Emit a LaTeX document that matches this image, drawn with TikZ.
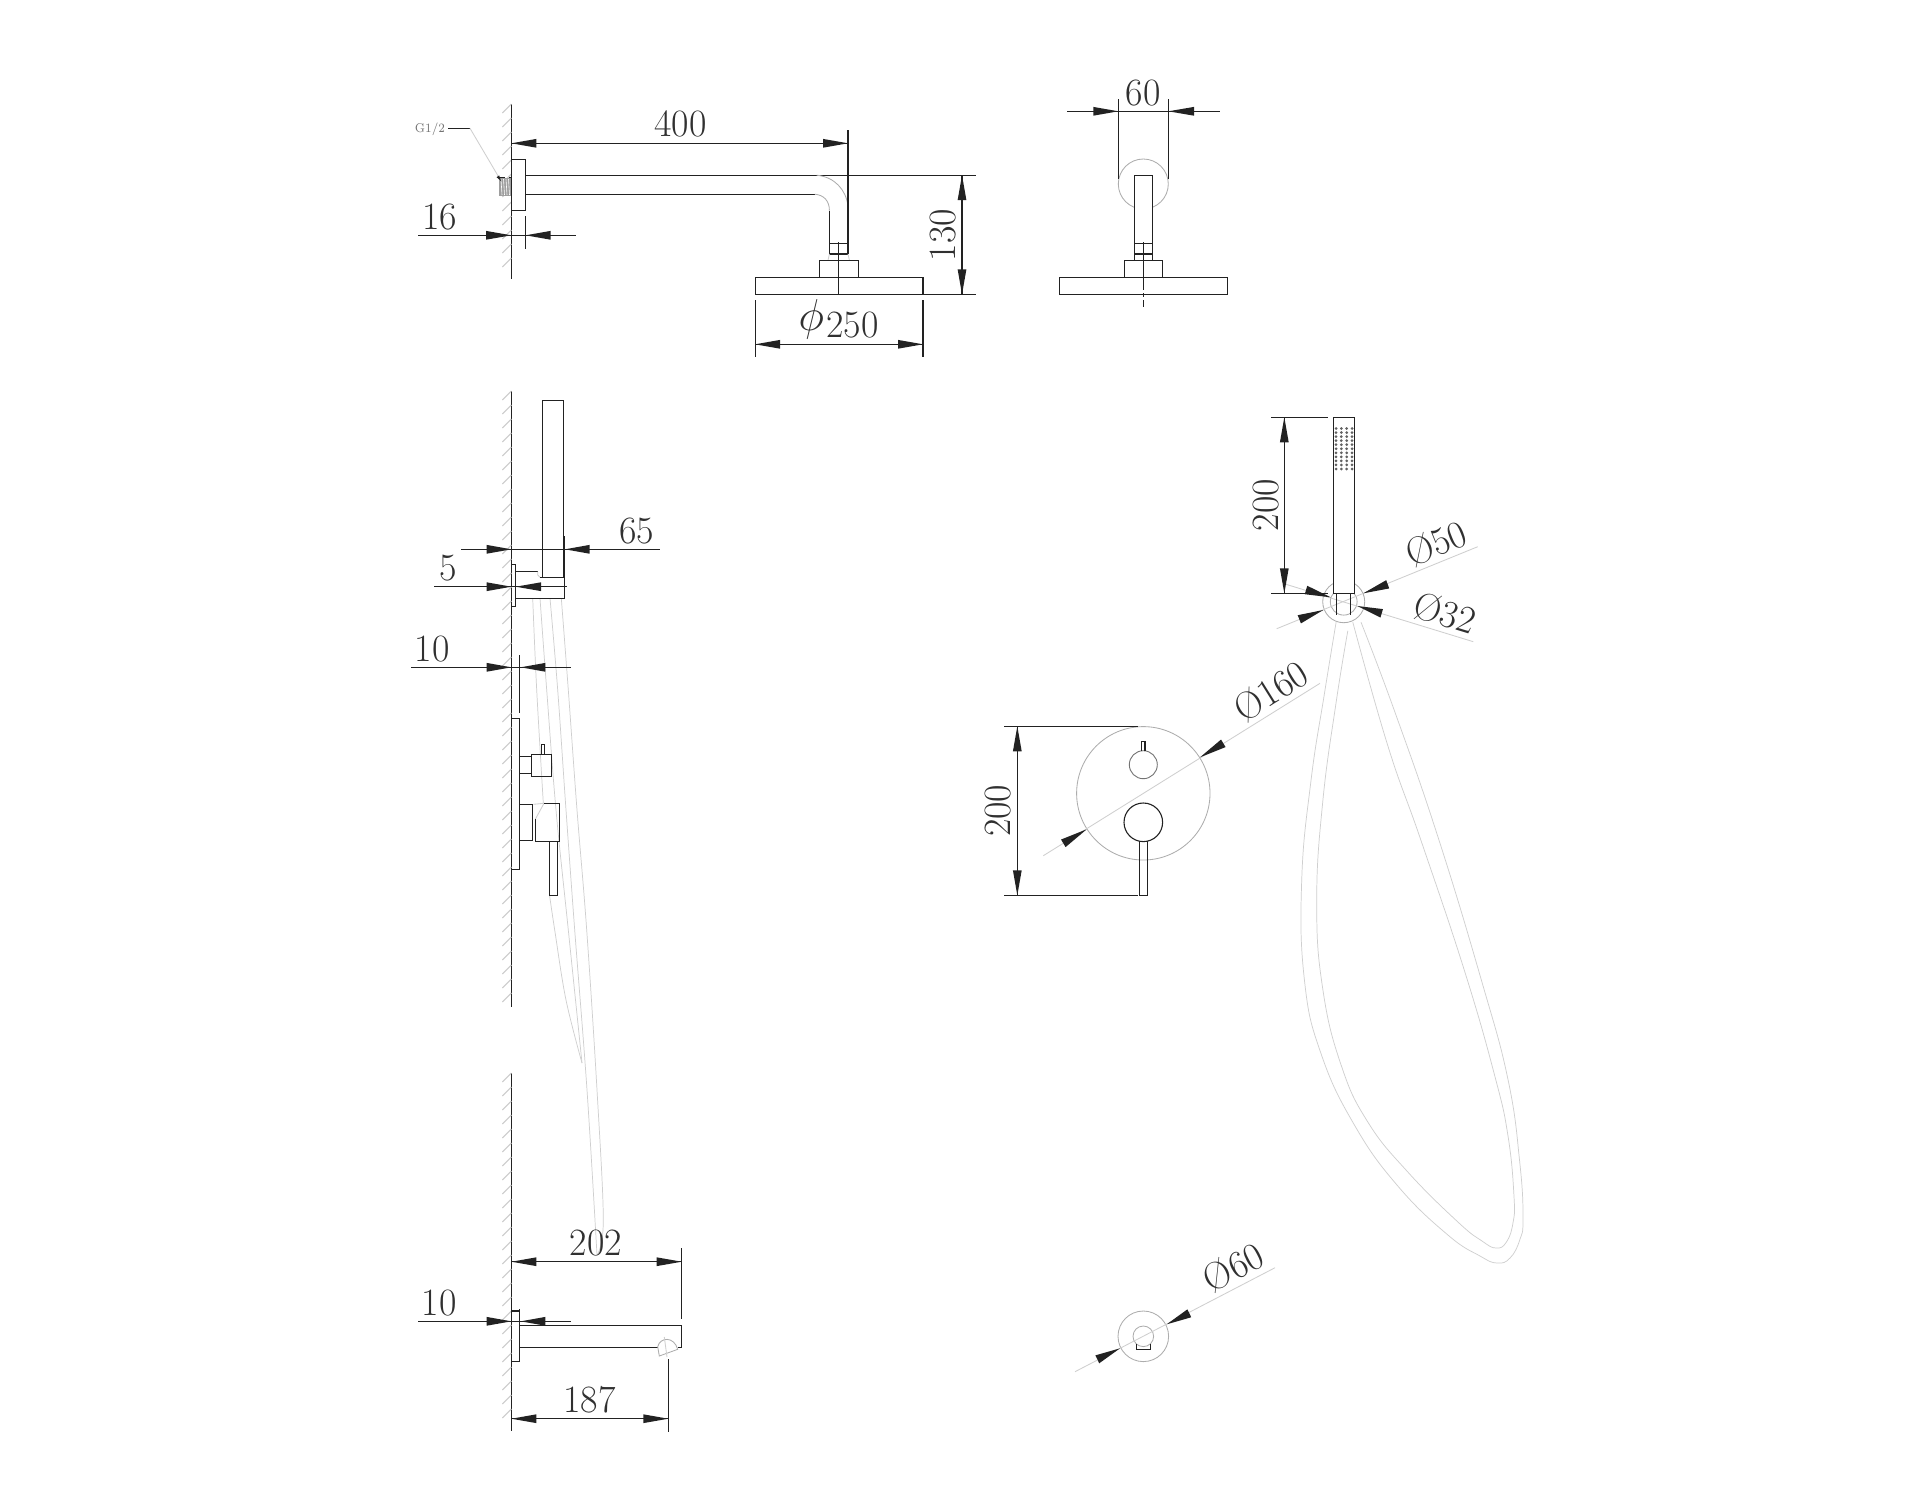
\documentclass[tikz,border=0pt]{standalone}
\usepackage{graphicx}
\usetikzlibrary{calc}
\definecolor{ink}{HTML}{222222}
\definecolor{txt}{HTML}{303030}
\definecolor{thin}{HTML}{CFCFCF}
\definecolor{circ}{HTML}{ADADAD}
\tikzset{
  ln/.style={draw=ink,line width=.58pt},
  gl/.style={draw=thin,line width=.42pt},
  cg/.style={draw=circ,line width=.42pt},
  hose/.style={draw=thin,line width=.36pt,smooth,tension=.6},
  dimt/.style={text=txt,inner sep=0pt,font=\fontsize{19.4}{20}\selectfont},
  hatch/.style={draw=black!20,line width=.5pt}
}
\newcommand{\tri}[2]{\fill[ink] (#1) -- ($(#2)!2.2bp!90:(#1)$) -- ($(#2)!2.2bp!-90:(#1)$) -- cycle;}
\newcommand{\wallx}[2]{%
  \draw[ln] (511.4,#1) -- (511.4,#2);
  \pgfmathsetmacro{\ysec}{#1+14}%
  \pgfmathsetmacro{\yend}{#2-9}%
  \foreach \yy in {#1,\ysec,...,\yend}{\draw[hatch] (511.4,\yy) -- (502.4,\yy+9);}%
}
\newcommand{\dtxt}[1]{\scalebox{.98}[1]{#1}}
\begin{document}
\begin{tikzpicture}[x=.5bp,y=-.5bp]
\useasboundingbox (0,0) rectangle (1929,1500);
\fill[white] (0,0) rectangle (1929,1500);

% ---------- walls
\wallx{104}{279}
\wallx{391}{1007}
\wallx{1073}{1431}

% ---------- overhead arm, side view
\draw[ln] (511.4,159.3) rectangle (525.6,210.3);
\draw[ln] (525.6,175.2) -- (975.5,175.2);
\draw[ln] (525.6,194.2) -- (814.8,194.2);
\draw[cg] (816.7,175.2) .. controls (835,177) and (846,190) .. (848,206);
\draw[cg] (814.8,194.2) .. controls (824,195) and (829.4,201) .. (829.4,210.5);
\draw[ln] (829.4,210.5) -- (829.4,254);
\draw[ln] (848,130) -- (848,254);
\draw[ln] (829.4,243.3) -- (848,243.3);
\draw[draw=ink,line width=1pt] (829.4,254) -- (848,254);
\draw[gl] (829.4,254) -- (828,260.3) (848,254) -- (849.4,260.3);
\draw[ln] (819.9,277.3) -- (819.9,260.3) -- (858.2,260.3) -- (858.2,277.3);
\draw[ln] (755.1,277.3) rectangle (923,294.3);
\draw[ln] (838.8,242.3) -- (838.8,294.3);
\draw[ln] (923,294.3) -- (975.5,294.3);
% thread
\fill[black!38] (498.8,178) rectangle (511.4,196.3);
\foreach \xx in {501,503.5,506,508.5}{\draw[white,line width=.3pt] (\xx,179) -- (\xx+1,195);}
\draw[ink,line width=.4pt,densely dashed] (498.8,177.6) -- (511.4,177.6);
% G1/2 leader
\node[text=black!55,inner sep=0pt,font=\fontsize{6.4}{7}\selectfont] (gtxt) at (430,129) {\scalebox{.85}[1]{G1/2}};
\draw[ln,line width=.5pt] (448.2,128.3) -- (470,128.3);
\draw[gl] (470,128.3) -- (499,177.5);
\fill[ink] (501,181) -- (496.6,177.2) -- (499.2,175.4) -- cycle;

% dim 400
\draw[ln] (511.4,143.3) -- (848,143.3);
\tri{511.4,143.3}{536.4,143.3}
\tri{848,143.3}{823,143.3}
\node[dimt] (d400) at (680.5,124.3) {\dtxt{400}};
% dim 16
\draw[ln] (418.2,235.3) -- (576,235.3);
\draw[ln] (525.6,216) -- (525.6,248.5);
\tri{511.4,235.3}{486,235.3}
\tri{525.6,235.3}{550.6,235.3}
\node[dimt] (d16) at (439.5,216.7) {\dtxt{16}};
% dim 130
\draw[ln] (962,175.2) -- (962,294.3);
\tri{962,175.2}{962,200.2}
\tri{962,294.3}{962,269.3}
\node[dimt,rotate=90] (d130) at (943.5,235) {\dtxt{130}};
% dim 250
\draw[ln] (755.1,300) -- (755.1,356.7);
\draw[ln] (923,300) -- (923,356.7);
\draw[ln] (755.1,344.3) -- (923,344.3);
\tri{755.1,344.3}{780.1,344.3}
\tri{923,344.3}{898,344.3}
\node[dimt,anchor=base] (d250) at (838.5,337) {\dtxt{\raisebox{.17em}{\scalebox{1.08}{$\phi$}}\hspace{.06em}250}};

% ---------- overhead arm, front view
\draw[cg] (1143.3,184) circle (25);
\draw[ln,fill=white] (1134.3,175.3) rectangle (1152.7,260.3);
\draw[ln] (1134.3,243.3) -- (1152.7,243.3);
\draw[draw=ink,line width=1pt] (1134.3,253.7) -- (1152.7,253.7);
\draw[ln] (1124.3,260.3) rectangle (1162.3,277.3);
\draw[ln] (1059.3,277.3) rectangle (1227.7,294.3);
\draw[ln,dash pattern=on 24bp off 1.5bp on 2bp off 1.5bp] (1143.3,242.3) -- (1143.3,306.7);
% dim 60
\draw[ln] (1118.3,99) -- (1118.3,178.7);
\draw[ln] (1168.3,99) -- (1168.3,178.7);
\draw[ln] (1067,111.3) -- (1220,111.3);
\tri{1118.3,111.3}{1093.3,111.3}
\tri{1168.3,111.3}{1194,111.3}
\node[dimt] (d60) at (1143.3,92.7) {\dtxt{60}};

% ---------- hoses behind the side views
\draw[hose] plot coordinates {(532.7,598.3) (536.7,690) (543.3,803)};
\draw[hose] plot coordinates {(549.5,895) (554.7,930) (566,1000) (582,1063)};
\draw[hose] plot coordinates {(540,598.3) (546.7,690) (556,810) (568.3,930) (582,1063)};
\draw[hose] plot coordinates {(550,598.3) (557.7,690) (566,810) (574.7,930) (587,1090) (597,1255)};
\draw[hose] plot coordinates {(561.3,598.3) (568.3,690) (577,810) (586.7,930) (597,1090) (603.3,1220) (597,1255)};

% ---------- hand shower, side view
\draw[ln] (542.7,400.3) rectangle (563.3,577.3);
\draw[draw=ink,line width=.9pt] (564,536) -- (564,577.3);
\draw[ln] (511.4,564.3) -- (515.7,564.3) -- (515.7,606.7) -- (511.4,606.7);
\draw[ln] (515.7,571.7) -- (537.7,571.7);
\draw[gl] (537.7,571.7) -- (537.7,575) -- (540,577.3);
\draw[ln] (540,577.3) -- (564.7,577.3) -- (564.7,598.3) -- (515.7,598.3);
% dim 65
\draw[ln] (461,549.3) -- (660,549.3);
\tri{511.4,549.3}{486.7,549.3}
\tri{565,549.3}{589.5,549.3}
\node[dimt] (d65) at (636.7,531) {\dtxt{65}};
% dim 5
\draw[ln] (434,586.7) -- (566.7,586.7);
\tri{511.4,586.7}{486.7,586.7}
\tri{515.7,586.7}{541,586.7}
\node[dimt] (d5) at (447.7,568.3) {\dtxt{5}};
% dim 10 (upper)
\draw[ln] (411,667.3) -- (570.7,667.3);
\draw[ln] (519.3,655) -- (519.3,712.7);
\tri{511.4,667.3}{486.7,667.3}
\tri{520.7,667.3}{545.3,667.3}
\node[dimt] (d10a) at (432.3,649.3) {\dtxt{10}};

% ---------- valve, side view
\draw[ln] (511.4,718.3) -- (519.3,718.3) -- (519.3,869.3) -- (511.4,869.3);
\draw[ln] (519.3,756.3) -- (531.3,756.3);
\draw[ln] (519.3,773.3) -- (531.3,773.3);
\draw[ln] (531.3,754.3) rectangle (551.7,776.3);
\draw[ln] (541.3,754.3) -- (541.3,744.3) -- (544.7,744.3) -- (544.7,754.3);
\draw[ln] (519.3,804.3) -- (532.7,804.3) -- (532.7,840.3) -- (519.3,840.3);
\draw[gl] (533.3,804.3) -- (544,803.3) -- (535.3,819.3);
\draw[ln] (544,803.3) -- (559.7,803.3) -- (559.7,841.3) -- (535.3,841.3) -- (535.3,819.3);
\draw[ln] (549.3,841.3) -- (549.3,895.3) -- (557.7,895.3) -- (557.7,841.3);

% ---------- spout
\draw[ln] (511.4,1311) -- (519.3,1311) -- (519.3,1361.3) -- (511.4,1361.3);
\draw[ln] (519.3,1309.3) -- (519.3,1311);
\draw[ln] (519.3,1325.3) -- (681.7,1325.3) -- (681.7,1347.3) -- (677.7,1347.3);
\draw[ln] (519.3,1347.3) -- (658.3,1347.3);
\draw[cg] (657.7,1346.7) .. controls (660,1337) and (674,1336) .. (677.7,1349.3) -- (659.3,1356) -- cycle;
\draw[gl] (664.3,1337) -- (667,1357);
% dim 202
\draw[ln] (681.7,1248.3) -- (681.7,1319.3);
\draw[ln] (511.4,1261.7) -- (681.7,1261.7);
\tri{511.4,1261.7}{536.4,1261.7}
\tri{681.7,1261.7}{656.7,1261.7}
\node[dimt] (d202) at (596,1242.7) {\dtxt{202}};
% dim 10 (lower)
\draw[ln] (418.3,1321.3) -- (570.7,1321.3);
\tri{511.4,1321.3}{486.7,1321.3}
\tri{520.7,1321.3}{545.3,1321.3}
\node[dimt] (d10b) at (439.3,1303.3) {\dtxt{10}};
% dim 187
\draw[ln] (668.3,1359) -- (668.3,1431.7);
\draw[ln] (511.4,1418.7) -- (668.3,1418.7);
\tri{511.4,1418.7}{536.4,1418.7}
\tri{668.3,1418.7}{643.3,1418.7}
\node[dimt] (d187) at (589.3,1400) {\dtxt{187}};

% ---------- hand shower, front view
\draw[hose,tension=.75] plot coordinates {(1336.1,622.2) (1324.4,693.7) (1311,780.4) (1301.7,880.2) (1304.4,979.9) (1321,1053.6) (1354.4,1125) (1397.8,1186) (1447.9,1235) (1480,1256) (1497,1263) (1510,1258) (1519.7,1240) (1523,1218.4) (1519.7,1162) (1508,1079.6) (1481.3,979.9) (1437.9,836.8) (1394.5,711) (1361,622.2)};
\draw[hose,tension=.75] plot coordinates {(1347.8,630.8) (1336.1,702.4) (1322.7,802.1) (1316.7,901.8) (1322.7,988.6) (1341.1,1065) (1367.8,1122) (1407.8,1172) (1457.9,1222) (1482,1241) (1496,1248) (1506.3,1242.2) (1513,1222.7) (1514,1196.7) (1508,1136) (1494.6,1075.3) (1464.6,971.2) (1421.2,841.1) (1387.8,745.7) (1352.8,622.2)};
\draw[cg] (1343.7,601.7) circle (21);
\draw[cg] (1343.7,601.7) circle (13.4);
\draw[gl] (1276.7,628.7) -- (1477.7,546.7);
\draw[gl] (1285,584) -- (1473.3,641.7);
\draw[ln,fill=white] (1333.3,417.3) rectangle (1354.7,593.3);
\foreach \cx in {1336,1341.3,1346.7,1352}{
  \foreach \ri in {0,...,10}{\fill[black!62] (\cx,428.5+4.05*\ri) circle (1.5);}
}
\draw[ln] (1336.7,593.3) -- (1336.7,615);
\draw[ln] (1350.7,593.3) -- (1350.7,615);
% dim 200 (shower)
\draw[ln] (1271,417.3) -- (1327.7,417.3);
\draw[ln] (1271,593.3) -- (1327.7,593.3);
\draw[ln] (1284.3,417.3) -- (1284.3,593.3);
\tri{1284.3,417.3}{1284.3,442.3}
\tri{1284.3,593.3}{1284.3,568.3}
\node[dimt,rotate=90] (d200a) at (1266,505) {\dtxt{200}};
% dia 50
\tri{1363.3,593.3}{1387.7,584.3}
\tri{1323.3,610}{1299.3,619.3}
\node[dimt,rotate=22] (d50) at (1436,543.3) {\dtxt{Ø50}};
% dia 32
\tri{1357.3,606}{1381.7,613.3}
\tri{1330.7,597.3}{1306,590}
\node[dimt,rotate=-17] (d32) at (1445,613.3) {\dtxt{Ø32}};

% ---------- mixer plate
\draw[cg] (1143.3,793.3) circle (66.7);
\draw[gl] (1043.3,855.7) -- (1320,683.3);
\draw[draw=black!55,line width=.45pt] (1143.3,764.7) circle (14);
\draw[ln] (1141.3,751) -- (1141.3,741.3) -- (1145,741.3) -- (1145,751);
\draw[draw=ink,line width=.55pt] (1143.3,822.3) circle (19.3);
\draw[ln] (1139.3,840.5) -- (1139.3,895.3) -- (1147.3,895.3) -- (1147.3,840.5);
\draw[ln] (1004.3,726.3) -- (1137.7,726.3);
\draw[ln] (1004.3,895.3) -- (1137.7,895.3);
\draw[ln] (1017.3,726.3) -- (1017.3,895.3);
\tri{1017.3,726.3}{1017.3,751.3}
\tri{1017.3,895.3}{1017.3,870.3}
\node[dimt,rotate=90] (d200b) at (998.3,810.7) {\dtxt{200}};
\tri{1200,757.3}{1223.3,743.3}
\tri{1086.7,829.3}{1063.3,843.3}
\node[dimt,rotate=32] (d160) at (1271,691) {\dtxt{Ø160}};

% ---------- spout rosette
\draw[cg] (1143.3,1336.3) circle (25.3);
\draw[cg] (1143.3,1336.3) circle (10.3);
\draw[gl] (1075,1371.7) -- (1275,1267.7);
\draw[ln,line width=.5pt] (1136.3,1344.3) -- (1136.3,1349.3) -- (1150,1349.3) -- (1150,1344.3);
\tri{1166.7,1324.3}{1189.3,1313.3}
\tri{1120,1348.3}{1097.3,1359.3}
\node[dimt,rotate=27.5] (d60b) at (1233.3,1267.3) {\dtxt{Ø60}};
\end{tikzpicture}
\end{document}
